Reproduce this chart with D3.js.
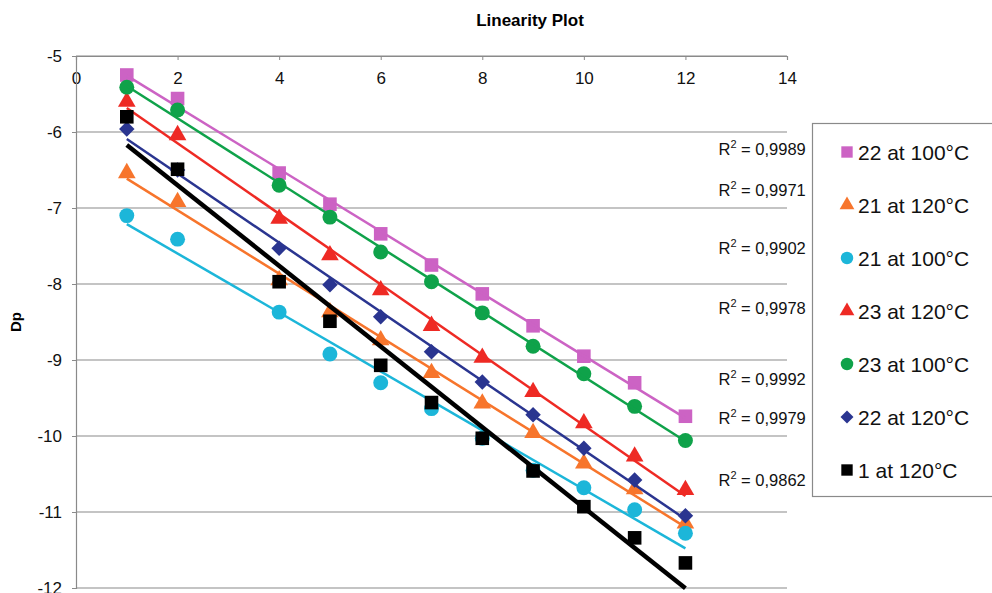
<!DOCTYPE html>
<html>
<head>
<meta charset="utf-8">
<script src="https://cdn.jsdelivr.net/npm/d3@7"></script>
<style>
  body { margin: 0; background: #fff; }
  svg { font-family: "Liberation Sans", Arial, sans-serif; }
</style>
</head>
<body>
<div class="chart"></div>
<script>
const FRAME_WIDTH = 992;
const FRAME_HEIGHT = 593;
const MARGINS = {left: 76, right: 205, top: 56, bottom: 5};

// data
const xValues = [1, 2, 4, 5, 6, 7, 8, 9, 10, 11, 12];
const seriesNames = ["22 at 100°C", "21 at 120°C", "21 at 100°C", "23 at 120°C",
    "23 at 100°C", "22 at 120°C", "1 at 120°C"];
const s22at100 = [-5.25, -5.56, -6.54, -6.95, -7.34, -7.75, -8.13, -8.55, -8.95, -9.30, -9.74];
const s21at120 = [-6.54, -6.92, -7.95, -8.37, -8.74, -9.17, -9.57, -9.96, -10.36, -10.70, -11.15];
const s21at100 = [-7.10, -7.41, -8.37, -8.92, -9.30, -9.64, -10.03, -10.45, -10.68, -10.97, -11.28];
const s23at120 = [-5.60, -6.04, -7.14, -7.62, -8.08, -8.55, -8.97, -9.42, -9.83, -10.27, -10.71];
const s23at100 = [-5.41, -5.71, -6.70, -7.12, -7.58, -7.97, -8.38, -8.82, -9.18, -9.61, -10.06];
const s22at120 = [-5.96, -6.50, -7.53, -8.01, -8.43, -8.89, -9.29, -9.72, -10.16, -10.58, -11.05];
const s1at120 = [-5.80, -6.49, -7.97, -8.49, -9.07, -9.56, -10.03, -10.46, -10.93, -11.34, -11.67];
const rSquared = ["0,9989", "0,9971", "0,9902", "0,9978", "0,9992", "0,9979", "0,9862"];
const xTicks = [0, 2, 4, 6, 8, 10, 12, 14];
const yTicks = [-5, -6, -7, -8, -9, -10, -11, -12];

const allSeries = [s22at100, s21at120, s21at100, s23at120, s23at100, s22at120, s1at120];
const colors = ["#cc63c4", "#f7752c", "#1cb6d9", "#ee2a24", "#0fa24a", "#2a3590", "#000000"];
// "diamond" here is a square turned 45 degrees, like the spreadsheet marker
const shapes = [d3.symbolSquare, d3.symbolTriangle, d3.symbolCircle, d3.symbolTriangle,
    d3.symbolCircle, "diamond", d3.symbolSquare];
const sizes = [185, 135, 175, 135, 175, 120, 185];

// where the R² labels sit (data units: right edge x, centre y)
const rLabelX = 14.37;
const rLabelY = [-6.22, -6.76, -7.53, -8.32, -9.25, -9.76, -10.58];

function markerPath(i, scale) {
    const type = shapes[i] === "diamond" ? d3.symbolSquare : shapes[i];
    return d3.symbol().type(type).size(sizes[i] * scale)();
}
function markerTurn(i) {
    return shapes[i] === "diamond" ? " rotate(45)" : "";
}

const SVG = d3.select(".chart")
    .append("svg")
    .attr("width", FRAME_WIDTH)
    .attr("height", FRAME_HEIGHT);

const xScale = d3.scaleLinear().domain([0, 14])
    .range([MARGINS.left, FRAME_WIDTH - MARGINS.right]);
const yScale = d3.scaleLinear().domain([-5, -12])
    .range([MARGINS.top, FRAME_HEIGHT - MARGINS.bottom]);

// gridlines
SVG.append("g")
    .selectAll("line")
    .data(yTicks)
    .enter().append("line")
    .attr("x1", xScale(0))
    .attr("x2", xScale(14))
    .attr("y1", (d) => yScale(d))
    .attr("y2", (d) => yScale(d))
    .attr("stroke", "#8a8a8a")
    .attr("stroke-width", 1.2);

// x axis along the top (y = -5), labels underneath
const xAxis = SVG.append("g")
    .attr("transform", "translate(0," + yScale(-5) + ")")
    .call(d3.axisBottom(xScale).tickValues(xTicks).tickSize(4).tickPadding(12));
xAxis.select(".domain").attr("stroke", "#8a8a8a").attr("stroke-width", 1.2);
xAxis.selectAll(".tick line").attr("stroke", "#8a8a8a");
xAxis.selectAll("text").attr("font-size", "17px").attr("fill", "#111")
    .attr("font-family", "Liberation Sans, Arial, sans-serif");

const yAxis = SVG.append("g")
    .attr("transform", "translate(" + xScale(0) + ",0)")
    .call(d3.axisLeft(yScale).tickValues(yTicks).tickSize(4).tickPadding(10)
        .tickFormat((d) => d.toString()));
yAxis.select(".domain").attr("stroke", "#8a8a8a").attr("stroke-width", 1.2);
yAxis.selectAll(".tick line").attr("stroke", "#8a8a8a");
yAxis.selectAll("text").attr("font-size", "17px").attr("fill", "#111")
    .attr("font-family", "Liberation Sans, Arial, sans-serif");

// linear trend of a series
function fit(ys) {
    const mx = d3.mean(xValues), my = d3.mean(ys);
    let num = 0, den = 0;
    xValues.forEach((x, i) => {
        num += (x - mx) * (ys[i] - my);
        den += (x - mx) * (x - mx);
    });
    const slope = num / den;
    return (x) => my + slope * (x - mx);
}

allSeries.forEach((ys, i) => {
    const g = SVG.append("g");
    g.selectAll("path")
        .data(ys)
        .enter().append("path")
        .attr("d", markerPath(i, 1))
        .attr("transform", (d, j) => "translate(" + xScale(xValues[j]) + "," + yScale(d) + ")"
            + markerTurn(i))
        .attr("fill", colors[i]);

    const f = fit(ys);
    g.append("line")
        .attr("x1", xScale(1))
        .attr("x2", xScale(12))
        .attr("y1", yScale(f(1)))
        .attr("y2", yScale(f(12)))
        .attr("stroke", colors[i])
        .attr("stroke-width", i === 6 ? 4.5 : 2.5);
});

// R² labels
const rText = SVG.append("g")
    .selectAll("text")
    .data(rSquared)
    .enter().append("text")
    .attr("x", xScale(rLabelX))
    .attr("y", (d, i) => yScale(rLabelY[i]) + 6)
    .attr("text-anchor", "end")
    .attr("font-size", "16.5px")
    .attr("fill", "#111");
rText.append("tspan").text("R");
rText.append("tspan").attr("dy", -7).attr("font-size", "11px").text("2");
rText.append("tspan").attr("dy", 7).text((d) => " = " + d);

// legend
SVG.append("rect")
    .attr("x", 812.5)
    .attr("y", 123.5)
    .attr("width", 190)
    .attr("height", 373)
    .attr("fill", "#fff")
    .attr("stroke", "#8a8a8a")
    .attr("stroke-width", 1.2);

const legend = SVG.append("g")
    .selectAll("g")
    .data(seriesNames)
    .enter().append("g")
    .attr("transform", (d, i) => "translate(847," + (152 + i * 53) + ")");
legend.append("path")
    .attr("d", (d, i) => markerPath(i, 0.7))
    .attr("transform", (d, i) => markerTurn(i))
    .attr("fill", (d, i) => colors[i]);
legend.append("text")
    .attr("x", 11)
    .attr("y", 7.5)
    .attr("font-size", "21px")
    .attr("fill", "#111")
    .text((d) => d);

// title and axis label
SVG.append("text")
    .attr("x", 530)
    .attr("y", 26)
    .attr("text-anchor", "middle")
    .attr("font-size", "17px")
    .attr("font-weight", "bold")
    .text("Linearity Plot");

SVG.append("text")
    .attr("transform", "translate(21,322) rotate(-90)")
    .attr("text-anchor", "middle")
    .attr("font-size", "15px")
    .attr("font-weight", "bold")
    .text("Dp");
</script>
</body>
</html>
